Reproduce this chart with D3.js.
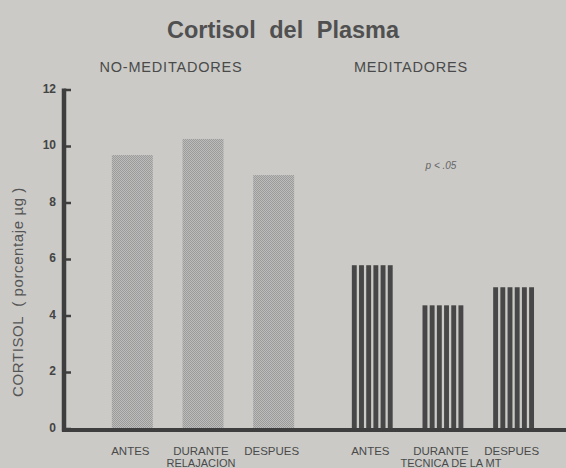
<!DOCTYPE html>
<html>
<head>
<meta charset="utf-8">
<script src="https://cdn.jsdelivr.net/npm/d3@7"></script>
<style>
  html, body { margin: 0; padding: 0; background: #cac9c6; }
  svg { display: block; }
  text { font-family: "Liberation Sans", Arial, sans-serif; white-space: pre; }
</style>
</head>
<body>
<svg id="chart" width="566" height="468"></svg>
<script>
// ---- data ----
const groups = ["NO-MEDITADORES", "MEDITADORES"];
const conditions = ["ANTES", "DURANTE", "DESPUES"];
const noMeditadores = [9.68, 10.25, 8.97];
const meditadores = [5.78, 4.36, 5.0];
const secondLine = ["RELAJACION", "TECNICA DE LA MT"];
const yTicks = [0, 2, 4, 6, 8, 10, 12];
const title = "Cortisol del Plasma";
const yLabel = "CORTISOL  ( porcentaje µg )";
const pNote = "p < .05";

const seriesByGroup = [noMeditadores, meditadores];

const svg = d3.select("#chart");
const W = 566, H = 468;

// background
svg.append("rect").attr("width", W).attr("height", H).attr("fill", "#cbcac7");

// stipple pattern
const defs = svg.append("defs");
const pat = defs.append("pattern").attr("id", "stip")
  .attr("patternUnits", "userSpaceOnUse").attr("width", 2).attr("height", 2);
pat.append("rect").attr("width", 2).attr("height", 2).attr("fill", "#bcbcbb");
pat.append("rect").attr("width", 1).attr("height", 1).attr("fill", "#9b9b9b");
pat.append("rect").attr("x", 1).attr("y", 1).attr("width", 1).attr("height", 1).attr("fill", "#9b9b9b");

// scales
const y = d3.scaleLinear().domain([0, 12]).range([428.5, 89.5]);
const xGroup = d3.scaleBand().domain(groups).range([97, 549]).paddingInner(0.1167).paddingOuter(0);
const xCond = d3.scaleBand().domain(conditions).range([0, xGroup.bandwidth()]).paddingInner(0.42).paddingOuter(0.21);

const ink = "#3e3e3e";
const textInk = "#4a4a4a";

// title
svg.append("text").attr("x", 283).attr("y", 38).attr("text-anchor", "middle")
  .attr("font-size", 23.5).attr("font-weight", "bold").attr("fill", "#505050")
  .attr("word-spacing", 7).text(title);

// group headers
groups.forEach(g => {
  svg.append("text").attr("x", xGroup(g) + xGroup.bandwidth() / 2 - 32).attr("y", 72)
    .attr("text-anchor", "middle").attr("font-size", 14.5).attr("letter-spacing", 0.8)
    .attr("fill", textInk).text(g);
});

// bars
groups.forEach((g, gi) => {
  const vals = seriesByGroup[gi];
  const gx = xGroup(g);
  conditions.forEach((c, ci) => {
    const x0 = gx + xCond(c);
    const bw = xCond.bandwidth();
    const top = y(vals[ci]);
    if (gi === 0) {
      svg.append("rect").attr("x", x0).attr("y", top).attr("width", bw)
        .attr("height", y(0) - top).attr("fill", "url(#stip)");
    } else {
      const nStripes = 6;
      const period = bw / (nStripes - 0.3);
      const sw = period * 0.68;
      for (let k = 0; k < nStripes; k++) {
        svg.append("rect").attr("x", x0 + k * period).attr("y", top)
          .attr("width", sw).attr("height", y(0) - top).attr("fill", "#474747");
      }
    }
    // category label
    svg.append("text").attr("x", x0 + bw / 2 - 2).attr("y", 455)
      .attr("text-anchor", "middle").attr("font-size", 11.5).attr("fill", textInk).text(c);
  });
  // second line label under DURANTE
  svg.append("text").attr("x", gx + xCond("DURANTE") + xCond.bandwidth() / 2 + (gi === 0 ? -2 : 8))
    .attr("y", 466.5).attr("text-anchor", "middle").attr("font-size", 11)
    .attr("fill", textInk).text(secondLine[gi]);
});

// axes
const yAxis = d3.axisRight(y).tickValues(yTicks).tickSize(7).tickFormat("");
const ya = svg.append("g").attr("transform", "translate(64,0)").call(yAxis);
ya.select(".domain").remove();
ya.selectAll(".tick line").attr("stroke", ink).attr("stroke-width", 2.5);
// vertical axis line
svg.append("line").attr("x1", 64).attr("x2", 64).attr("y1", y(12) - 1).attr("y2", y(0) + 3)
  .attr("stroke", ink).attr("stroke-width", 4.5);
// horizontal axis line
svg.append("line").attr("x1", 62).attr("x2", W).attr("y1", y(0) + 1.5).attr("y2", y(0) + 1.5)
  .attr("stroke", ink).attr("stroke-width", 4);

// tick labels
svg.selectAll("text.ytick").data(yTicks).enter().append("text")
  .attr("class", "ytick").attr("x", 56).attr("y", d => y(d) + 3)
  .attr("text-anchor", "end").attr("font-size", 12).attr("font-weight", "bold")
  .attr("fill", "#444").text(d => d);

// y label
svg.append("text").attr("transform", "translate(23,292) rotate(-90)")
  .attr("text-anchor", "middle").attr("font-size", 15).attr("letter-spacing", 0.6)
  .attr("fill", "#555").text(yLabel);

// p note
svg.append("text").attr("x", 441).attr("y", 169).attr("text-anchor", "middle")
  .attr("font-size", 10).attr("font-style", "italic").attr("fill", "#666").text(pNote);
</script>
</body>
</html>
